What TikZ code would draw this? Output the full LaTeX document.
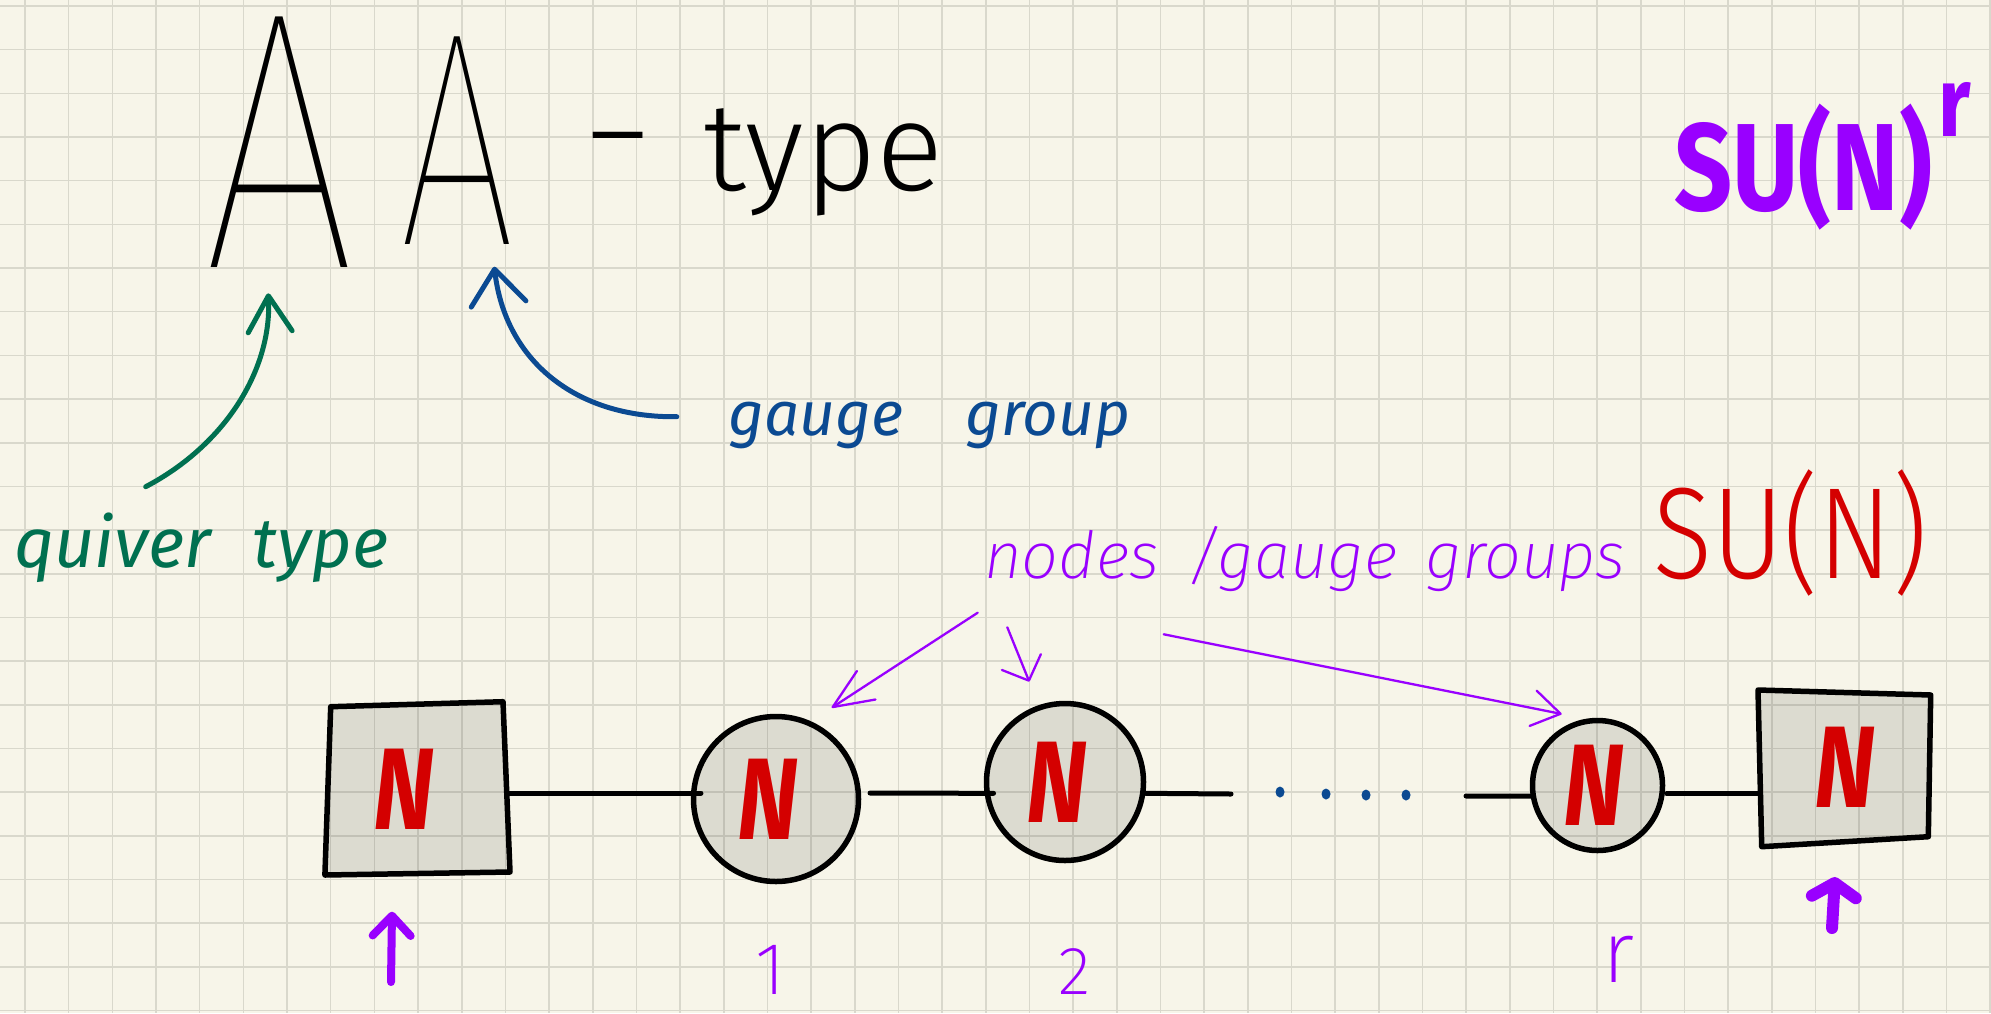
\documentclass[tikz,border=0pt]{standalone}
\usepackage{fontspec}
\usepackage{graphicx}
\usetikzlibrary{arrows.meta}

% Fira Sans faces for the hand-lettered labels, with lighter weights when available
\newfontfamily\firabase{Fira Sans}
\IfFontExistsTF{Fira Sans Thin}{\newfontfamily\fsThin{Fira Sans Thin}}{%
  \IfFontExistsTF{Fira Sans ExtraLight}{\newfontfamily\fsThin{Fira Sans ExtraLight}}{%
    \IfFontExistsTF{Fira Sans Light}{\newfontfamily\fsThin{Fira Sans Light}}{\newcommand\fsThin{\firabase}}}}
\IfFontExistsTF{Fira Sans ExtraLight}{\newfontfamily\fsXLight{Fira Sans ExtraLight}}{%
  \IfFontExistsTF{Fira Sans Light}{\newfontfamily\fsXLight{Fira Sans Light}}{\newcommand\fsXLight{\firabase}}}
\IfFontExistsTF{Fira Sans Light}{\newfontfamily\fsLight{Fira Sans Light}}{\newcommand\fsLight{\firabase}}
\IfFontExistsTF{Fira Sans ExtraLight Italic}{\newfontfamily\fsXLightIt{Fira Sans ExtraLight Italic}}{%
  \IfFontExistsTF{Fira Sans Light Italic}{\newfontfamily\fsXLightIt{Fira Sans Light Italic}}{\newcommand\fsXLightIt{\firabase\itshape}}}
\newcommand\fsIt{\firabase\itshape}
\newcommand\fsBold{\firabase\bfseries}
\newcommand\fsBoldIt{\firabase\bfseries\itshape}
\newcommand\Nfont{\fontsize{116}{116}\fsBoldIt}
% the N carried by every node, nudged sideways by #1
\newcommand\Nmark[1]{\hspace*{#1}\scalebox{0.8}[1]{N}}

\definecolor{paper}{HTML}{F7F5E9}
\definecolor{gridc}{HTML}{D9D8CC}
\definecolor{nred}{HTML}{D40000}
\definecolor{npurple}{HTML}{9900FF}
\definecolor{ngreen}{HTML}{007050}
\definecolor{nblue}{HTML}{0B4A92}

\tikzset{
  gridline/.style={draw=gridc, line width=1.6pt},
  nodefill/.style={fill=black, fill opacity=0.105, text opacity=1},
  gaugenode/.style={circle, draw=black, line width=5.5pt, nodefill,
    inner sep=0pt, text=nred, font=\Nfont},
  flavbox/.style={rectangle, inner sep=0pt, text=nred, font=\Nfont},
  quad/.style={draw=black, line width=5.5pt, line join=round, nodefill},
  link/.style={draw=black, line width=5pt, line cap=round},
  ink/.style={line cap=round, line join=round},
  thinpurple/.style={ink, draw=npurple, line width=2.3pt},
  txt/.style={inner sep=0pt},
  numlabel/.style={anchor=base, inner sep=0pt, text=npurple},
}

\begin{document}
\begin{tikzpicture}[x=1pt, y=-1pt]
  % paper and grid
  \fill[paper] (0,0) rectangle (1991,1013);
  \useasboundingbox (0,0) rectangle (1991,1013);
  \foreach \i in {0,...,45} {\draw[gridline] ({25+43.67*\i},0) -- ({25+43.67*\i},1013);}
  \foreach \j in {0,...,23} {\draw[gridline] (0,{6+43.67*\j}) -- (1991,{6+43.67*\j});}

  % heading
  \node[txt, anchor=base, xscale=0.74, font={\fontsize{368}{368}\fsThin}] (A1) at (279.5,267) {A};
  \node[txt, anchor=base, xscale=0.68, font={\fontsize{305}{305}\fsThin}] (A2) at (457.5,244) {A};
  \node[txt, anchor=base west, font={\fontsize{125}{125}\fsLight}] (typ) at (580,190)
    {\raisebox{16pt}{\scalebox{1.5}[1]{-}}\hspace{48pt}type};

  \node[txt, anchor=base west, xscale=0.82, text=npurple, font={\fontsize{124}{124}\fsBold}] (sur) at (1674,210)
    {SU(N)\hspace{8pt}\raisebox{74pt}{\fontsize{99}{99}\selectfont r}};

  % annotations
  \node[txt, anchor=base west, text=ngreen, font={\fontsize{70}{70}\fsIt}] (qtype) at (14,567)
    {\spaceskip=42pt quiver type};
  \node[txt, anchor=base west, text=nblue, font={\fontsize{62}{62}\fsIt}] (ggroup) at (728,435)
    {\spaceskip=62pt gauge group};
  \node[txt, anchor=base west, text=npurple, font={\fontsize{65}{65}\fsXLightIt}] (ngg) at (984,578)
    {\spaceskip=28pt nodes /gauge groups};
  \node[txt, anchor=base west, xscale=0.84, text=nred, font={\fontsize{130}{130}\fsLight}] (sun) at (1653,578)
    {SU(N)};

  \coordinate (qt) at (145.7,486.7);
  \coordinate (qh) at (268.3,293.3);
  \draw[ink, draw=ngreen, line width=5pt, -{Straight Barb[length=36pt,width=44pt,round]}]
    (qt) .. controls (225,445) and (272,370) .. (qh);
  \coordinate (bt) at (676.8,416.7);
  \coordinate (bh) at (494.3,266.7);
  \draw[ink, draw=nblue, line width=5pt, -{Straight Barb[length=35pt,width=55pt,round]}]
    (bt) .. controls (575,418) and (505,360) .. (bh);

  % flavour boxes
  \filldraw[quad] (330.7,706.7) -- (503,701.7) -- (510,872) -- (324.9,875) -- cycle;
  \node[flavbox, minimum width=180pt, minimum height=170pt] (fl) at (417,789) {\Nmark{-26pt}};
  \filldraw[quad] (1758,690) -- (1930.7,695) -- (1928.3,836.7) -- (1761.7,846.7) -- cycle;
  \node[flavbox, minimum width=170pt, minimum height=148pt] (fr) at (1845,767) {\Nmark{0pt}};

  % gauge nodes
  \node[gaugenode, minimum size=165pt] (c1) at (776,799) {\Nmark{-16pt}};
  \node[gaugenode, minimum size=157pt] (c2) at (1065,782) {\Nmark{-16pt}};
  \node[gaugenode, minimum size=130pt] (cr) at (1597.5,785.5) {\Nmark{-7pt}};

  % chain
  \coordinate (d1) at (1231,794);
  \coordinate (d2) at (1466,796);
  \draw[link] (fl.east |- c1.176) -- ([xshift=10pt]c1.176);
  \draw[link] ([xshift=9pt]c1.4) -- ([xshift=9pt]c2.188);
  \draw[link] (c2.352) -- (d1);
  \draw[link] (d2) -- ([xshift=2pt]cr.189);
  \draw[link] ([xshift=2pt]cr.353) -- (fr.west |- cr.353);
  \foreach \x/\y in {1280/792, 1326/794, 1366/795, 1406/795}
    {\fill[nblue] (\x,\y) ellipse (4.5 and 5.5);}

  % node labels
  \node[numlabel, font={\fontsize{74}{74}\fsXLight}] (l1) at (771,994) {1};
  \node[numlabel, font={\fontsize{68}{68}\fsXLight}] (l2) at (1075,994) {2};
  \node[numlabel, font={\fontsize{87}{87}\fsXLight}] (lr) at (1619,982) {r};

  % pointers from the note to the gauge nodes
  \coordinate (p1) at (977.7,612.7);
  \coordinate (h1) at (831.7,707.7);
  \draw[thinpurple, -{Straight Barb[length=40pt,width=34pt,round]}] (p1) -- (h1);
  \coordinate (p2) at (1007.3,627.3);
  \coordinate (h2) at (1029.3,681.7);
  \draw[thinpurple, -{Straight Barb[length=20pt,width=42pt,round]}] (p2) -- (h2);
  \coordinate (p3) at (1163.7,634.3);
  \coordinate (h3) at (1561.7,714);
  \draw[thinpurple, -{Straight Barb[length=28pt,width=36pt,round]}] (p3) -- (h3);

  % pointers to the flavour boxes
  \coordinate (fa) at (391,982);
  \coordinate (fah) at (392,911.7);
  \draw[ink, draw=npurple, line width=8pt, -{Straight Barb[length=20pt,width=38pt,round]}] (fa) -- (fah);
  \coordinate (fb) at (1832,928);
  \coordinate (fbh) at (1835,877);
  \draw[ink, draw=npurple, line width=12pt, -{Straight Barb[length=14pt,width=44pt,round]}] (fb) -- (fbh);
\end{tikzpicture}
\end{document}
